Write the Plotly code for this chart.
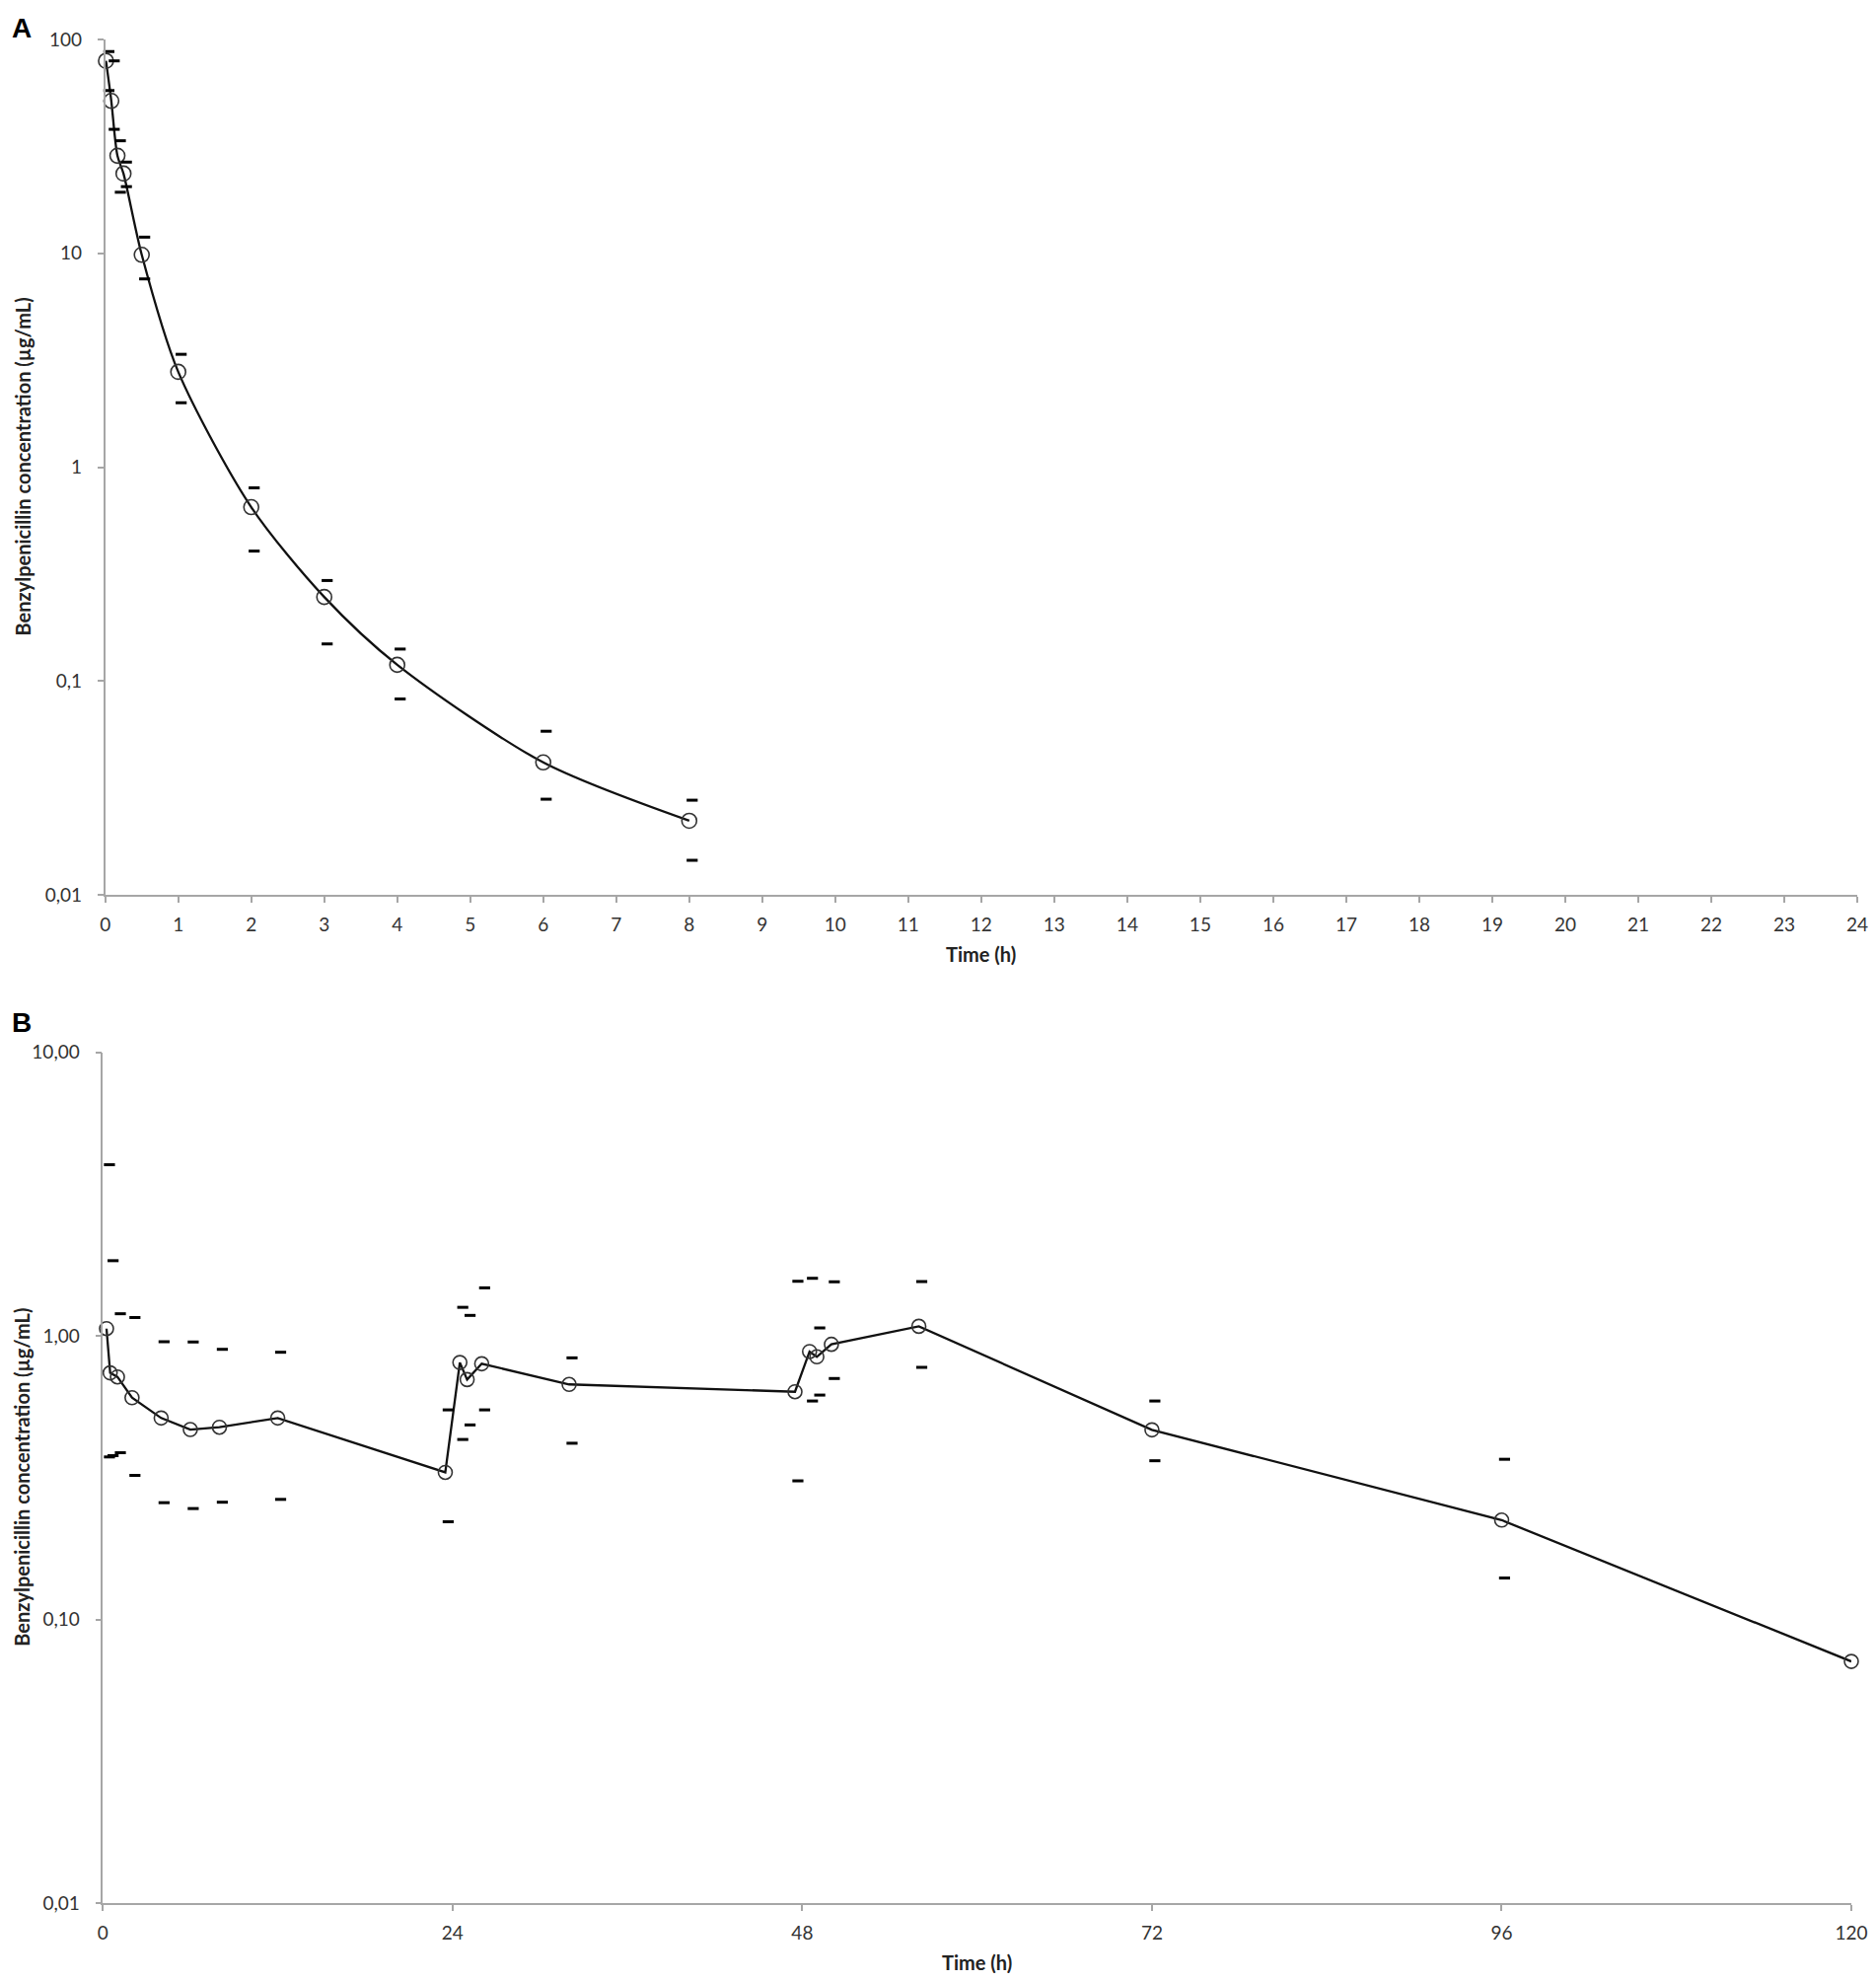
import plotly.graph_objects as go

# ---------------- Data ----------------
# Panel A (0-24 h)
time_a = [0.01, 0.083, 0.167, 0.25, 0.5, 1, 2, 3, 4, 6, 8]
mean_a = [79.4, 51.6, 28.6, 23.6, 9.84, 2.79, 0.65, 0.247, 0.119, 0.0416, 0.0222]
upper_a = [87.8, 79.4, 33.6, 26.7, 11.9, 3.37, 0.80, 0.295, 0.141, 0.0582, 0.0277]
lower_a = [57.7, 38.0, 19.3, 20.5, 7.59, 2.00, 0.405, 0.149, 0.0824, 0.028, 0.0145]

# Panel B (0-120 h)
time_b = [0.25, 0.5, 1, 2, 4, 6, 8, 12, 23.5, 24.5, 25, 26, 32, 47.5, 48.5, 49, 50, 56, 72, 96, 120]
mean_b = [1.06, 0.74, 0.716, 0.605, 0.513, 0.467, 0.476, 0.513, 0.33, 0.805, 0.701, 0.797,
          0.674, 0.635, 0.88, 0.843, 0.933, 1.08, 0.466, 0.224, 0.0711]
upper_b = [4.01, 1.84, 1.196, 1.16, 0.953, 0.951, 0.896, 0.875, 0.548, 1.26, 1.18, 1.476,
           0.836, 1.557, 1.595, 1.066, 1.55, 1.553, 0.589, 0.367, 0.1475]
lower_b = [0.374, 0.378, 0.387, 0.322, 0.258, 0.246, 0.259, 0.265, 0.221, 0.431, 0.485, 0.548,
           0.418, 0.308, 0.589, 0.618, 0.707, 0.774, 0.3626, 0.140, 0.0323]

xticks_a = list(range(0, 25))
xticks_b = [0, 24, 48, 72, 96, 120]
yticks_a = [0.01, 0.1, 1, 10, 100]
yticklabels_a = ["0,01", "0,1", "1", "10", "100"]
yticks_b = [0.01, 0.1, 1, 10]
yticklabels_b = ["0,01", "0,10", "1,00", "10,00"]

x_title = "Time (h)"
y_title = "Benzylpenicillin concentration (µg/mL)"

# ---------------- Figure ----------------
# page body has an 8px margin; keep the figure inside the 1902x2008 window
OFF = 8
W, H = 1902 - 2 * OFF, 2008 - 2 * OFF
fig = go.Figure()

circle_style = dict(symbol="circle-open", size=15, color="#333333", line=dict(width=1.6, color="#333333"))
dash_style = dict(symbol="line-ew", size=8, color="black", line=dict(width=3, color="black"))

# Panel A
fig.add_trace(go.Scatter(x=time_a, y=mean_a, mode="lines+markers", xaxis="x", yaxis="y",
                         line=dict(color="#111111", width=2.3, shape="spline", smoothing=0.8),
                         marker=circle_style, showlegend=False, cliponaxis=False))
fig.add_trace(go.Scatter(x=time_a, y=upper_a, mode="markers", xaxis="x3", yaxis="y",
                         marker=dash_style, showlegend=False, cliponaxis=False))
fig.add_trace(go.Scatter(x=time_a, y=lower_a, mode="markers", xaxis="x3", yaxis="y",
                         marker=dash_style, showlegend=False, cliponaxis=False))

# Panel B
circle_b = dict(circle_style, size=14)
fig.add_trace(go.Scatter(x=time_b, y=mean_b, mode="lines+markers", xaxis="x2", yaxis="y2",
                         line=dict(color="#111111", width=2.3),
                         marker=circle_b, showlegend=False, cliponaxis=False))
fig.add_trace(go.Scatter(x=time_b, y=upper_b, mode="markers", xaxis="x4", yaxis="y2",
                         marker=dash_style, showlegend=False, cliponaxis=False))
fig.add_trace(go.Scatter(x=time_b, y=lower_b, mode="markers", xaxis="x4", yaxis="y2",
                         marker=dash_style, showlegend=False, cliponaxis=False))

# target screen-pixel geometry -> paper fractions
ax_a_left, ax_a_right = 106.7, 1883.0
ax_a_top, ax_a_bot = 40.0, 907.0
ax_b_left, ax_b_right = 104.3, 1877.0
ax_b_top, ax_b_bot = 1066.5, 1929.0

def fx(px):
    return (px - OFF) / W

def fy(py):
    return 1 - (py - OFF) / H

axis_color = "#A6A6A6"
tick_font = dict(family="Lato, Open Sans, sans-serif", size=19, color="#333333")

common_x = dict(showline=True, linecolor=axis_color, linewidth=1.5, ticks="outside",
                ticklen=6, tickwidth=1.5, tickcolor=axis_color, showgrid=False, zeroline=False,
                tickfont=tick_font, ticklabelstandoff=6, fixedrange=True, automargin=False,
                ticklabeloverflow="allow")
common_y = dict(type="log", showline=True, linecolor=axis_color, linewidth=1.5, ticks="outside",
                ticklen=6, tickwidth=1.5, tickcolor=axis_color, showgrid=False, zeroline=False,
                tickfont=tick_font, ticklabelstandoff=12, fixedrange=True, automargin=False,
                ticklabeloverflow="allow")

fig.update_layout(
    width=W, height=H,
    margin=dict(l=0, r=0, t=0, b=0, autoexpand=False),
    paper_bgcolor="white", plot_bgcolor="white",
    xaxis=dict(common_x, domain=[fx(ax_a_left), fx(ax_a_right)], anchor="y",
               range=[0, 24], tickvals=xticks_a),
    yaxis=dict(common_y, domain=[fy(ax_a_bot), fy(ax_a_top)], anchor="x",
               range=[-2, 2], tickvals=yticks_a, ticktext=yticklabels_a),
    xaxis2=dict(common_x, domain=[fx(ax_b_left), fx(ax_b_right)], anchor="y2",
                range=[0, 120], tickvals=xticks_b),
    yaxis2=dict(common_y, domain=[fy(ax_b_bot), fy(ax_b_top)], anchor="x2",
                range=[-2, 1], tickvals=yticks_b, ticktext=yticklabels_b),
    # overlay axes: the dash markers sit a few pixels right of the circles
    xaxis3=dict(overlaying="x", anchor="y", range=[-0.04, 23.96], visible=False,
                fixedrange=True, automargin=False),
    xaxis4=dict(overlaying="x2", anchor="y2", range=[-0.2, 119.8], visible=False,
                fixedrange=True, automargin=False),
)

title_font = dict(family="Lato, Open Sans, sans-serif", size=20, color="#222222")
label_font = dict(family="Liberation Sans, Arial, sans-serif", size=28, color="black")
annotations = [
    dict(text="<b>A</b>", x=fx(22), y=fy(28), xref="paper", yref="paper", xanchor="center", yanchor="middle",
         showarrow=False, font=label_font),
    dict(text="<b>B</b>", x=fx(22), y=fy(1036), xref="paper", yref="paper", xanchor="center", yanchor="middle",
         showarrow=False, font=label_font),
    dict(text="<b>" + x_title + "</b>", x=fx(994), y=fy(967), xref="paper", yref="paper",
         xanchor="center", yanchor="middle", showarrow=False, font=title_font),
    dict(text="<b>" + x_title + "</b>", x=fx(991), y=fy(1989), xref="paper", yref="paper",
         xanchor="center", yanchor="middle", showarrow=False, font=title_font),
    dict(text="<b>" + y_title + "</b>", x=fx(22), y=fy((ax_a_top + ax_a_bot) / 2), xref="paper", yref="paper",
         xanchor="center", yanchor="middle", textangle=-90, showarrow=False, font=title_font),
    dict(text="<b>" + y_title + "</b>", x=fx(22), y=fy((ax_b_top + ax_b_bot) / 2), xref="paper", yref="paper",
         xanchor="center", yanchor="middle", textangle=-90, showarrow=False, font=title_font),
]
fig.update_layout(annotations=annotations)

fig.write_html("out.html")
